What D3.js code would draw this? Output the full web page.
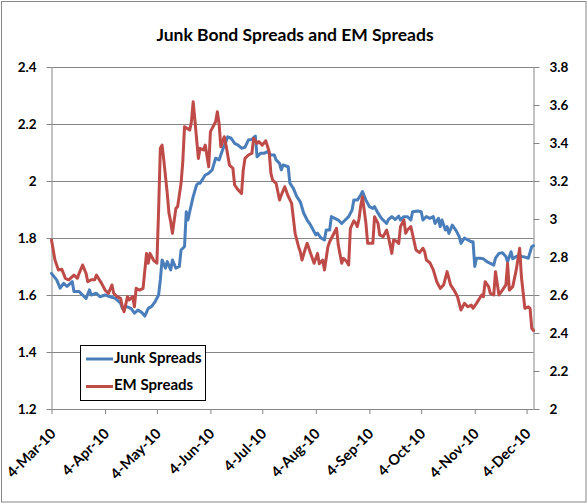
<!DOCTYPE html>
<html>
<head>
<meta charset="utf-8">
<script src="https://cdn.jsdelivr.net/npm/d3@7"></script>
<style>
  html, body { margin: 0; padding: 0; background: #fff; }
  svg text { font-family: Lato, "Open Sans", sans-serif; font-weight: 700; fill: #000; }
</style>
</head>
<body>
<svg id="chart" width="588" height="504"></svg>
<script>
const chartTitle = "Junk Bond Spreads and EM Spreads";
const seriesNames = ["Junk Spreads", "EM Spreads"];

const junkDates = [
"2010-03-04","2010-03-07","2010-03-09","2010-03-11","2010-03-13","2010-03-16","2010-03-17","2010-03-20","2010-03-22","2010-03-24",
"2010-03-26","2010-03-27","2010-03-30","2010-04-01","2010-04-04","2010-04-07","2010-04-10","2010-04-13","2010-04-14","2010-04-16",
"2010-04-19","2010-04-21","2010-04-23","2010-04-25","2010-04-27","2010-04-29","2010-05-01","2010-05-03","2010-05-05","2010-05-06",
"2010-05-07","2010-05-09","2010-05-10","2010-05-12","2010-05-13","2010-05-15","2010-05-17","2010-05-18","2010-05-20","2010-05-21",
"2010-05-22","2010-05-23","2010-05-25","2010-05-27","2010-05-28","2010-05-29","2010-06-01","2010-06-03","2010-06-05","2010-06-07",
"2010-06-09","2010-06-11","2010-06-13","2010-06-14","2010-06-16","2010-06-18","2010-06-20","2010-06-22","2010-06-24","2010-06-26",
"2010-06-28","2010-06-30","2010-07-01","2010-07-03","2010-07-05","2010-07-07","2010-07-09","2010-07-11","2010-07-12","2010-07-14",
"2010-07-15","2010-07-16","2010-07-19","2010-07-20","2010-07-22","2010-07-24","2010-07-26","2010-07-28","2010-07-30","2010-08-01",
"2010-08-04","2010-08-05","2010-08-07","2010-08-09","2010-08-10","2010-08-12","2010-08-13","2010-08-15","2010-08-17","2010-08-19",
"2010-08-21","2010-08-23","2010-08-25","2010-08-26","2010-08-28","2010-08-30","2010-08-31","2010-09-02","2010-09-04","2010-09-06",
"2010-09-07","2010-09-09","2010-09-11","2010-09-14","2010-09-15","2010-09-17","2010-09-19","2010-09-21","2010-09-22","2010-09-24",
"2010-09-26","2010-09-28","2010-09-29","2010-10-02","2010-10-04","2010-10-05","2010-10-07","2010-10-09","2010-10-11","2010-10-12",
"2010-10-14","2010-10-15","2010-10-16","2010-10-18","2010-10-19","2010-10-20","2010-10-22","2010-10-24","2010-10-26","2010-10-27",
"2010-10-29","2010-10-31","2010-11-02","2010-11-03","2010-11-04","2010-11-05","2010-11-07","2010-11-09","2010-11-11","2010-11-13",
"2010-11-15","2010-11-16","2010-11-18","2010-11-20","2010-11-22","2010-11-23","2010-11-25","2010-11-26","2010-11-28","2010-11-30",
"2010-12-01","2010-12-03","2010-12-05","2010-12-07","2010-12-08"
];
const junkValues = [
1.676,1.653,1.624,1.641,1.630,1.647,1.612,1.612,1.600,1.588,
1.618,1.600,1.606,1.594,1.600,1.594,1.588,1.571,1.553,1.560,
1.553,1.536,1.547,1.540,1.526,1.553,1.560,1.577,1.600,1.653,
1.723,1.694,1.717,1.688,1.723,1.694,1.700,1.758,1.770,1.892,
1.863,1.892,1.945,1.986,1.992,1.992,2.021,2.027,2.039,2.080,
2.074,2.109,2.138,2.155,2.150,2.132,2.126,2.115,2.118,2.144,
2.146,2.158,2.085,2.097,2.097,2.103,2.091,2.091,2.074,2.062,
2.039,2.056,2.050,1.992,1.974,1.945,1.927,1.887,1.863,1.845,
1.811,1.817,1.800,1.793,1.828,1.828,1.875,1.869,1.863,1.851,
1.863,1.875,1.898,1.933,1.933,1.951,1.963,1.933,1.910,1.904,
1.910,1.887,1.869,1.851,1.865,1.875,1.865,1.877,1.863,1.875,
1.875,1.863,1.892,1.895,1.892,1.863,1.875,1.869,1.875,1.851,
1.869,1.840,1.863,1.828,1.840,1.816,1.845,1.828,1.805,1.781,
1.800,1.793,1.787,1.787,1.700,1.729,1.729,1.727,1.717,1.711,
1.705,1.729,1.746,1.748,1.735,1.717,1.752,1.727,1.735,1.741,
1.735,1.733,1.729,1.770,1.773
];

const emDates = [
"2010-03-04","2010-03-06","2010-03-08","2010-03-10","2010-03-12","2010-03-14","2010-03-17","2010-03-19","2010-03-20","2010-03-22",
"2010-03-24","2010-03-25","2010-03-27","2010-03-29","2010-03-30","2010-04-02","2010-04-04","2010-04-06","2010-04-08","2010-04-09",
"2010-04-11","2010-04-13","2010-04-14","2010-04-15","2010-04-17","2010-04-18","2010-04-20","2010-04-21","2010-04-22","2010-04-24",
"2010-04-26","2010-04-28","2010-04-29","2010-04-30","2010-05-02","2010-05-04","2010-05-05","2010-05-06","2010-05-07","2010-05-08",
"2010-05-10","2010-05-11","2010-05-12","2010-05-13","2010-05-15","2010-05-16","2010-05-18","2010-05-19","2010-05-20","2010-05-23",
"2010-05-24","2010-05-25","2010-05-26","2010-05-28","2010-05-29","2010-05-31","2010-06-01","2010-06-03","2010-06-04","2010-06-07",
"2010-06-08","2010-06-09","2010-06-10","2010-06-12","2010-06-13","2010-06-15","2010-06-17","2010-06-18","2010-06-20","2010-06-22",
"2010-06-23","2010-06-24","2010-06-26","2010-06-28","2010-06-29","2010-07-01","2010-07-02","2010-07-04","2010-07-06","2010-07-08",
"2010-07-09","2010-07-10","2010-07-12","2010-07-14","2010-07-15","2010-07-17","2010-07-19","2010-07-21","2010-07-23","2010-07-25",
"2010-07-26","2010-07-27","2010-07-29","2010-07-30","2010-08-01","2010-08-03","2010-08-05","2010-08-06","2010-08-08","2010-08-09",
"2010-08-11","2010-08-12","2010-08-14","2010-08-16","2010-08-17","2010-08-19","2010-08-20","2010-08-22","2010-08-23","2010-08-24",
"2010-08-26","2010-08-27","2010-08-28","2010-08-29","2010-08-30","2010-08-31","2010-09-02","2010-09-03","2010-09-05","2010-09-06",
"2010-09-07","2010-09-09","2010-09-10","2010-09-12","2010-09-14","2010-09-15","2010-09-17","2010-09-18","2010-09-20","2010-09-21",
"2010-09-22","2010-09-24","2010-09-25","2010-09-26","2010-09-28","2010-10-01","2010-10-03","2010-10-05","2010-10-06","2010-10-07",
"2010-10-09","2010-10-11","2010-10-13","2010-10-15","2010-10-17","2010-10-19","2010-10-21","2010-10-23","2010-10-25","2010-10-27",
"2010-10-29","2010-10-31","2010-11-02","2010-11-03","2010-11-05","2010-11-08","2010-11-09","2010-11-10","2010-11-12","2010-11-13",
"2010-11-15","2010-11-16","2010-11-18","2010-11-20","2010-11-22","2010-11-23","2010-11-24","2010-11-26","2010-11-28","2010-11-30",
"2010-12-01","2010-12-03","2010-12-05","2010-12-06","2010-12-07","2010-12-08"
];
const emValues = [
2.889,2.784,2.732,2.735,2.688,2.680,2.705,2.688,2.714,2.758,
2.714,2.670,2.680,2.680,2.705,2.661,2.626,2.609,2.653,2.609,
2.591,2.582,2.538,2.512,2.591,2.574,2.591,2.538,2.635,2.626,
2.635,2.819,2.767,2.819,2.784,2.767,3.047,3.372,3.389,3.311,
3.135,3.030,2.986,2.925,3.056,3.065,3.188,3.302,3.486,3.468,
3.512,3.617,3.521,3.319,3.372,3.363,3.389,3.275,3.460,3.512,
3.565,3.503,3.380,3.433,3.389,3.284,3.267,3.179,3.153,3.135,
3.258,3.319,3.337,3.346,3.425,3.398,3.407,3.389,3.412,3.354,
3.240,3.205,3.188,3.100,3.126,3.170,3.120,3.082,2.925,2.854,
2.828,2.784,2.846,2.872,2.819,2.767,2.819,2.764,2.784,2.732,
2.854,2.880,2.916,2.951,2.863,2.767,2.793,2.775,2.758,2.950,
2.990,2.980,2.960,3.000,3.070,3.117,2.977,2.872,2.872,2.872,
3.012,2.977,2.916,2.907,2.942,2.907,2.819,2.890,2.881,2.872,
2.960,2.995,2.925,2.942,2.960,2.837,2.823,2.846,2.828,2.784,
2.770,2.732,2.670,2.635,2.653,2.723,2.653,2.626,2.591,2.521,
2.556,2.538,2.547,2.530,2.556,2.600,2.591,2.670,2.644,2.609,
2.600,2.723,2.600,2.626,2.653,2.767,2.626,2.644,2.732,2.846,
2.696,2.530,2.538,2.530,2.425,2.413
];

const leftTicks = [1.2, 1.4, 1.6, 1.8, 2, 2.2, 2.4];
const rightTicks = [2, 2.2, 2.4, 2.6, 2.8, 3, 3.2, 3.4, 3.6, 3.8];
const xTickDates = ["2010-03-04","2010-04-04","2010-05-04","2010-06-04","2010-07-04","2010-08-04","2010-09-04","2010-10-04","2010-11-04","2010-12-04"];
const xDomain = ["2010-03-04", "2010-12-08"];

const parse = d3.timeParse("%Y-%m-%d");
const fmt = d3.timeFormat("%-d-%b-%y");

const svg = d3.select("#chart");
const L = 51.5, R = 533.5, T = 67, B = 409;
const axisColor = "#868686";
const blue = "#4A7EBB", red = "#BE4B48";

const x = d3.scaleTime().domain(xDomain.map(parse)).range([L, R]);
const yL = d3.scaleLinear().domain([1.2, 2.4]).range([B, T]);
const yR = d3.scaleLinear().domain([2, 3.8]).range([B, T]);

// outer frame
svg.append("rect").attr("x", 1.5).attr("y", 1.5).attr("width", 584.5).attr("height", 500.5)
  .attr("fill", "#fff").attr("stroke", axisColor).attr("stroke-width", 1);

// title
svg.append("text").attr("x", 295).attr("y", 41).attr("text-anchor", "middle")
  .style("font-size", "17.5px").text(chartTitle);

// gridlines
svg.append("g").selectAll("line").data(leftTicks.slice(1)).join("line")
  .attr("x1", L).attr("x2", R)
  .attr("y1", d => Math.round(yL(d)) + 0.5).attr("y2", d => Math.round(yL(d)) + 0.5)
  .attr("stroke", axisColor).attr("stroke-width", 1);

const tickFont = sel => sel.style("font-size", "13.5px").style("font-family", "Lato, sans-serif").style("font-weight", 700);

// left axis
const gL = svg.append("g").attr("transform", `translate(${L},0)`)
  .call(d3.axisLeft(yL).tickValues(leftTicks).tickSize(5).tickPadding(10)
    .tickFormat(d => d3.format("")(+d.toFixed(1))));
gL.select(".domain").attr("stroke", axisColor).attr("d", `M0.5,${T}V${B}`);
gL.selectAll(".tick line").attr("stroke", axisColor);
gL.selectAll(".tick text").call(tickFont);

// right axis
const gR = svg.append("g").attr("transform", `translate(${R},0)`)
  .call(d3.axisRight(yR).tickValues(rightTicks).tickSize(6).tickPadding(10)
    .tickFormat(d => d3.format("")(+d.toFixed(1))));
gR.select(".domain").attr("stroke", axisColor).attr("d", `M0.5,${T}V${B}`);
gR.selectAll(".tick line").attr("stroke", axisColor);
gR.selectAll(".tick text").call(tickFont);

// bottom axis
const gB = svg.append("g").attr("transform", `translate(0,${B})`)
  .call(d3.axisBottom(x).tickValues(xTickDates.map(parse)).tickSize(5).tickFormat(fmt));
gB.select(".domain").attr("stroke", axisColor).attr("d", `M${L},0.5H${R}`);
gB.selectAll(".tick line").attr("stroke", axisColor);
gB.selectAll(".tick text").call(tickFont)
  .style("font-size", "14.5px")
  .attr("text-anchor", "end").attr("dy", null).attr("y", 0)
  .attr("dominant-baseline", "middle")
  .attr("transform", "translate(2,23) rotate(-45)");

// lines
const junk = junkDates.map((d, i) => ({ date: parse(d), v: junkValues[i] }));
const em = emDates.map((d, i) => ({ date: parse(d), v: emValues[i] }));

svg.append("path").datum(junk)
  .attr("fill", "none").attr("stroke", blue).attr("stroke-width", 3)
  .attr("stroke-linejoin", "round").attr("stroke-linecap", "round")
  .attr("d", d3.line().x(d => x(d.date)).y(d => yL(d.v)));

svg.append("path").datum(em)
  .attr("fill", "none").attr("stroke", red).attr("stroke-width", 3)
  .attr("stroke-linejoin", "round").attr("stroke-linecap", "round")
  .attr("d", d3.line().x(d => x(d.date)).y(d => yR(d.v)));

// legend
const lg = svg.append("g");
lg.append("rect").attr("x", 80.5).attr("y", 345.5).attr("width", 125).attr("height", 55)
  .attr("fill", "#fff").attr("stroke", "#000").attr("stroke-width", 1);
const legendItems = [{ name: seriesNames[0], color: blue, y: 359 }, { name: seriesNames[1], color: red, y: 386.5 }];
legendItems.forEach(it => {
  lg.append("line").attr("x1", 86).attr("x2", 113).attr("y1", it.y).attr("y2", it.y)
    .attr("stroke", it.color).attr("stroke-width", 3);
  lg.append("text").attr("x", 114).attr("y", it.y).attr("dominant-baseline", "middle")
    .style("font-size", "15px").text(it.name);
});
</script>
</body>
</html>
